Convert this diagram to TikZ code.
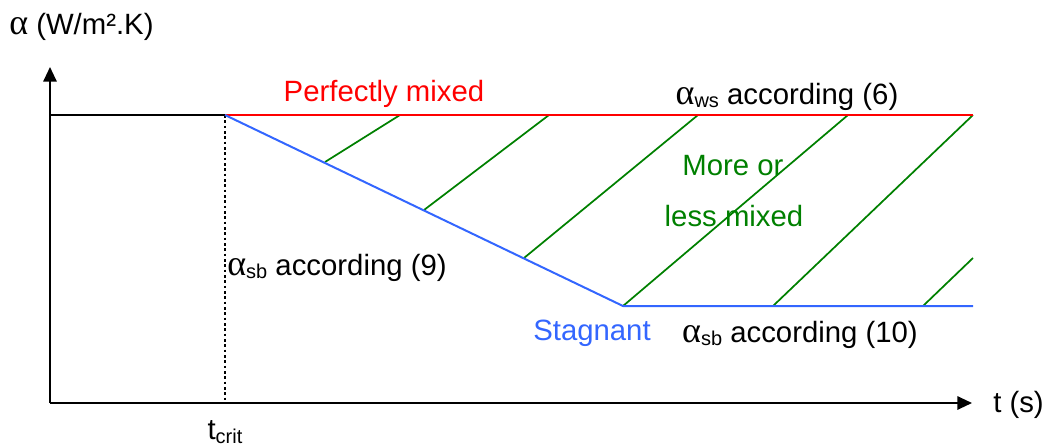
\documentclass[tikz,border=0pt]{standalone}
\usepackage{fontspec}
\setmainfont{Liberation Sans}
\newfontfamily\grk{Liberation Serif}
\usetikzlibrary{arrows.meta}
\definecolor{cred}{RGB}{255,0,0}
\definecolor{cblue}{RGB}{51,102,255}
\definecolor{cgreen}{RGB}{0,128,0}
\newcommand{\al}{{\grk\fontsize{27}{28}\selectfont α}}
\newcommand{\sub}[1]{\raisebox{-0.22ex}{\fontsize{15}{16}\selectfont #1}}
\begin{document}
\begin{tikzpicture}[x=0.75pt,y=-0.75pt,
  lbl/.style={inner sep=0pt,font=\fontsize{22}{25}\selectfont},
  axis/.style={line width=1.5pt,-{Triangle[length=11pt,width=10pt]}},
  redl/.style={cred,line width=1.5pt},
  bluel/.style={cblue,line width=1.5pt},
  greenl/.style={cgreen,line width=1.3pt}]
\useasboundingbox (0,0) rectangle (1047,447);
% coordinates
\coordinate (O) at (50,403);
\coordinate (ytip) at (50,67);
\coordinate (xtip) at (972,403);
\coordinate (y0) at (50,115);
\coordinate (tc) at (225,115);
\coordinate (tcb) at (225,403);
\coordinate (rend) at (973,115);
\coordinate (bk) at (623,306);
\coordinate (bend) at (973,306);
% axes
\draw[axis] (O) -- (ytip);
\draw[axis] (O) -- (xtip);
\draw[line width=1.5pt] (y0) -- (tc);
\draw[line width=2.2pt,dash pattern=on 2pt off 2pt] (tc) -- (tcb);
% green hatching
\coordinate (g1a) at (325,162); \coordinate (g1b) at (400,115);
\coordinate (g2a) at (424,210); \coordinate (g2b) at (549,115);
\coordinate (g3a) at (524,258); \coordinate (g3b) at (698,115);
\coordinate (g5a) at (773,306); \coordinate (g4b) at (848,115);
\coordinate (g6a) at (923,306); \coordinate (g6b) at (973,258);
\draw[greenl] (g1a) -- (g1b);
\draw[greenl] (g2a) -- (g2b);
\draw[greenl] (g3a) -- (g3b);
\draw[greenl] (bk) -- (g4b);
\draw[greenl] (g5a) -- (rend);
\draw[greenl] (g6a) -- (g6b);
% red and blue
\draw[redl] (tc) -- (rend);
\draw[bluel] (tc) -- (bk) -- (bend);
% labels
\node[lbl,anchor=west] (ylab) at (9,27) {\al{} (W/m².K)};
\node[lbl,anchor=west] (xlab) at (993,405) {t (s)};
\node[lbl] (tcrit) at (225,432) {t\sub{crit}};
\node[lbl,text=cred] (pm) at (384,94) {Perfectly mixed};
\node[lbl] (aws) at (787,97) {\al\sub{ws} according (6)};
\node[lbl,text=cgreen] (mo) at (733,166) {More or};
\node[lbl,text=cgreen] (lm) at (734,216) {less mixed};
\node[lbl] (asb9) at (337,268) {\al\sub{sb} according (9)};
\node[lbl,text=cblue] (stag) at (592,333) {Stagnant};
\node[lbl] (asb10) at (800,335) {\al\sub{sb} according (10)};
\end{tikzpicture}
\end{document}
